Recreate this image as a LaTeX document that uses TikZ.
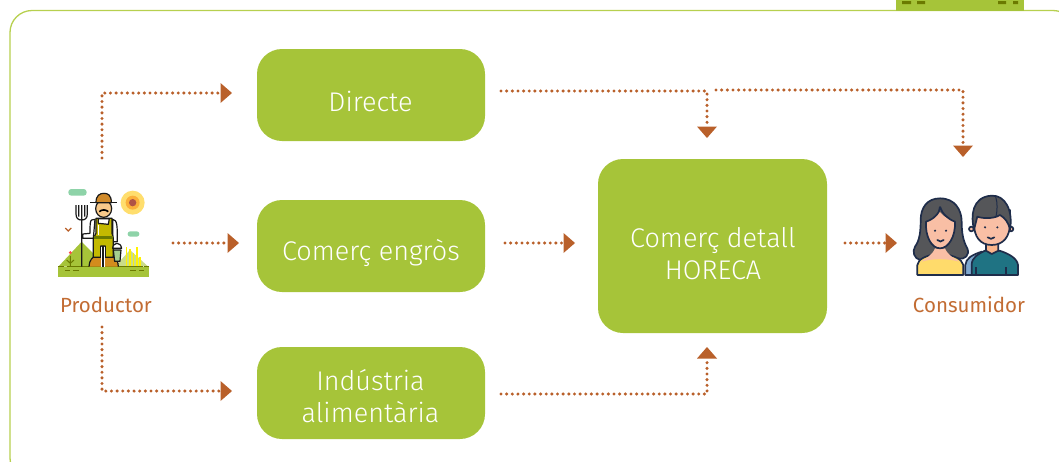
\documentclass[tikz,border=0pt]{standalone}
\usepackage{fontspec}
\setmainfont{Fira Sans Light}
\newfontfamily\capfont{Fira Sans}
\usetikzlibrary{arrows.meta}
\definecolor{boxgreen}{HTML}{A6C439}
\definecolor{frameg}{HTML}{B7D04F}
\definecolor{rust}{HTML}{B9602A}
\definecolor{labelc}{HTML}{C26C33}
\definecolor{olive}{HTML}{6B7A00}
\definecolor{navy}{HTML}{1F2D4A}
\definecolor{hair}{HTML}{555659}
\definecolor{skin}{HTML}{F9BFA5}
\definecolor{teal2}{HTML}{1F7383}
\definecolor{skyb}{HTML}{7FA8CF}
\definecolor{yel}{HTML}{FFDB6B}
\definecolor{mint}{HTML}{8ED3A8}
\definecolor{overall}{HTML}{C4B900}
\definecolor{peach}{HTML}{F8C98A}
\definecolor{hatc}{HTML}{D08A2A}
\definecolor{bootc}{HTML}{D38C1D}
\definecolor{bucket}{HTML}{A5D08F}
\tikzset{
  stagebox/.style={fill=boxgreen,rounded corners=25pt,inner sep=0pt,anchor=center},
  stagetext/.style={text=white,font=\fontsize{27}{32}\selectfont,align=center,inner sep=0pt},
  flow/.style={draw=rust,line width=3.4pt,line cap=round,dash pattern=on 0pt off 5.65pt,-{Triangle[length=11.5pt,width=20pt,fill=rust,line width=0pt,round=false]}},
  caption/.style={text=labelc,font=\capfont\fontsize{20.5}{24}\selectfont,inner sep=0pt},
  ink/.style={draw=black!90,line width=1.2pt,line join=round},
  inkp/.style={draw=navy,line width=1.7pt,line join=round},
}
\begin{document}
\begin{tikzpicture}[x=1pt,y=-1pt]
\useasboundingbox (0,0) rectangle (1059,461);
\clip (0,0) rectangle (1059,461);
% frame and tab
\draw[frameg,line width=1.3pt,rounded corners=22pt] (10,10.5) rectangle (1075,480);
\fill[boxgreen] (896,0) rectangle (1024,11);
\fill[olive] (902,1) rectangle (911,4) (917,1) rectangle (925,4) (998,1) rectangle (1006,4) (1013,1) rectangle (1018,4);
% stages
\node[stagebox,minimum width=228pt,minimum height=92pt] (directe) at (371,95) {};
\node[stagebox,minimum width=228pt,minimum height=92pt] (engros) at (371,246) {};
\node[stagebox,minimum width=228pt,minimum height=92pt] (industria) at (371,393) {};
\node[stagebox,minimum width=229pt,minimum height=174pt] (detall) at (712.5,246) {};
\node[stagetext] (directeT) at (370.5,101) {Directe};
\node[stagetext] (engrosT) at (371,253) {Comerç engròs};
\node[stagetext] (industriaT) at (370.5,396.5) {Indústria\\alimentària};
\node[stagetext] (detallT) at (713,253.5) {Comerç detall\\HORECA};
\node[caption] (productor) at (106,304.5) {Productor};
\node[caption] (consumidor) at (969,304.5) {Consumidor};
% connector anchors
\coordinate (p1) at (102,158); \coordinate (p1c) at (102,93);  \coordinate (p1e) at (232,93);
\coordinate (p2) at (173,243); \coordinate (p2e) at (239,243);
\coordinate (p3) at (102,327); \coordinate (p3c) at (102,391); \coordinate (p3e) at (232,391);
\coordinate (d1) at (501,91);  \coordinate (d1c) at (707,91);  \coordinate (d1e) at (707,138);
\coordinate (d2) at (716,90);  \coordinate (d2c) at (963,90);  \coordinate (d2e) at (963,157);
\coordinate (e1) at (505,243); \coordinate (e1e) at (575,243);
\coordinate (i1) at (501,394); \coordinate (i1c) at (707,394); \coordinate (i1e) at (707,347);
\coordinate (c1) at (845,243); \coordinate (c1e) at (897,243);
\draw[flow] (p1) -- (p1c) -- (p1e);
\draw[flow] (p2) -- (p2e);
\draw[flow] (p3) -- (p3c) -- (p3e);
\draw[flow] (d1) -- (d1c) -- (d1e);
\draw[flow] (d2) -- (d2c) -- (d2e);
\draw[flow] (e1) -- (e1e);
\draw[flow] (i1) -- (i1c) -- (i1e);
\draw[flow] (c1) -- (c1e);
% farmer icon
\begin{scope}[shift={(40,170)},x=.3333pt,y=-.3333pt]
  \fill[color={rgb,255:red,255;green,222;blue,110}] (278,98) circle (36);
  \fill[color={rgb,255:red,251;green,176;blue,59}] (278,98) circle (21);
  \fill[color={rgb,255:red,176;green,82;blue,70}] (278,98) circle (11);
  \fill[mint,rounded corners=3pt] (85,57) rectangle (140,77);
  \fill[mint,rounded corners=2.5pt] (263,184) rectangle (298,200);
  \draw[rust,line width=1.2pt] (76,174) -- (85,183) -- (94,174);
  \fill[boxgreen] (55,290) -- (125,215) -- (180,270) -- (180,290) -- cycle;
  \fill[boxgreen!60!white] (225,290) -- (270,240) -- (325,290) -- cycle;
  \foreach \xx/\yy in {260/232,270/238,280/250,291/232,300/262}
    \draw[yellow,line width=1.2pt] (\xx,\yy) -- (\xx,290);
  \fill[boxgreen] (55,292) rectangle (327,320);
  \draw[olive,line width=1.5pt] (55,290) -- (73,290) (80,290) -- (308,290) (312,290) -- (327,290);
  \draw[olive,line width=1.3pt] (75,302) -- (90,302) (100,302) -- (116,302) (270,302) -- (288,302) (298,302) -- (312,302);
  \draw[olive,line width=1pt] (91,290) -- (91,258) (80,270) -- (91,280) -- (102,270);
  \fill[red!70!white] (91,248) circle (5);
  % fork
  \draw[ink] (125,150) -- (125,290) (125,105) -- (125,150) (116,105) -- (116,140) (134,105) -- (134,140)
    (108,105) -- (108,132) .. controls (108,145) and (115,150) .. (125,150) .. controls (135,150) and (142,145) .. (142,132) -- (142,105);
  % boots
  \fill[bootc] (147,290) .. controls (147,270) and (160,262) .. (163,258) -- (220,258) .. controls (228,265) and (235,275) .. (235,290) -- cycle;
  \draw[ink] (147,290) .. controls (147,270) and (160,262) .. (163,258) (220,258) .. controls (228,265) and (235,275) .. (235,290);
  % shirt arms
  \draw[ink,fill=white] (155,150) .. controls (150,152) and (150,165) .. (150,190) -- (128,192) -- (128,205) -- (160,205) -- (165,148) -- cycle;
  \draw[ink,fill=white] (218,148) .. controls (232,150) and (232,165) .. (232,215) -- (218,215) -- cycle;
  % overalls
  \draw[ink,fill=overall] (168,145) -- (168,190) -- (160,205) -- (160,262) -- (182,262) -- (182,228) -- (196,228) -- (196,262) -- (220,262) -- (220,205) -- (216,190) -- (216,145) -- cycle;
  \fill[olive] (161,198) rectangle (219,207);
  \fill[white] (182,232) rectangle (196,290);
  \draw[ink] (189,228) -- (189,290);
  \draw[white,line width=1pt] (175,165) -- (175,195);
  % collar
  \draw[ink,fill=white] (175,146) -- (175,160) -- (205,163) -- (208,146) -- cycle;
  % face
  \draw[ink,fill=peach] (191,116) ellipse (24 and 26);
  \draw[black,line width=1.6pt] (178,125) .. controls (185,118) and (197,118) .. (205,125);
  % hat
  \draw[ink,fill=hatc] (168,98) .. controls (168,75) and (180,70) .. (192,70) .. controls (204,70) and (214,75) .. (214,98) -- cycle;
  \draw[ink] (150,98) -- (232,98);
  % bucket
  \draw[ink,fill=white] (218,235) .. controls (220,215) and (242,215) .. (245,235) -- cycle;
  \draw[ink,fill=bucket] (220,240) -- (243,240) -- (240,274) -- (224,274) -- cycle;
\end{scope}
% people icon
\begin{scope}[shift={(900,180)},x=.3333pt,y=-.3333pt]
  % woman hair
  \draw[inkp,fill=hair] (120,55) .. controls (165,55) and (185,90) .. (185,125) .. controls (185,160) and (190,185) .. (202,205) .. controls (210,225) and (195,240) .. (175,235) -- (60,240) .. controls (42,235) and (36,215) .. (45,200) .. controls (60,180) and (62,150) .. (62,120) .. controls (62,85) and (80,55) .. (120,55) -- cycle;
  % woman shirt
  \draw[inkp,fill=yel] (52,285) -- (52,255) .. controls (55,235) and (80,228) .. (105,222) -- (135,222) .. controls (160,228) and (185,235) .. (190,255) -- (190,285) -- cycle;
  \fill[skin] (64,245) .. controls (80,232) and (95,228) .. (105,205) -- (135,205) .. controls (145,228) and (160,232) .. (178,245) .. controls (140,235) and (100,235) .. (64,245) -- cycle;
  % woman face
  \fill[skin] (120,96) .. controls (105,110) and (90,120) .. (78,125) .. controls (75,170) and (95,205) .. (120,205) .. controls (145,205) and (167,170) .. (165,125) .. controls (150,120) and (130,110) .. (120,96) -- cycle;
  \draw[inkp] (120,80) .. controls (120,100) and (100,118) .. (78,125) .. controls (75,170) and (95,205) .. (120,205) .. controls (145,205) and (167,170) .. (165,125) .. controls (145,118) and (125,100) .. (120,80);
  \fill[navy] (105,152) circle (3.5) (138,152) circle (3.5);
  \draw[inkp,line cap=round] (112,180) .. controls (117,186) and (126,186) .. (131,180);
  % man
  \draw[inkp,fill=skyb] (196,285) -- (196,255) .. controls (198,235) and (215,225) .. (245,215) -- (260,285) -- cycle;
  \draw[inkp,fill=teal2] (215,285) -- (215,255) .. controls (215,232) and (235,222) .. (255,212) -- (298,212) .. controls (325,220) and (352,235) .. (354,255) -- (354,285) -- cycle;
  \draw[inkp] (227,285) -- (227,262) (317,285) -- (317,262);
  \draw[inkp,fill=skin!85!orange] (258,190) -- (258,212) -- (275,222) -- (295,212) -- (295,190) -- cycle;
  \draw[inkp,fill=skin] (214,147) circle (7) (333,147) circle (7);
  \draw[inkp,fill=skin] (275,195) .. controls (240,195) and (222,170) .. (222,130) -- (222,90) -- (330,90) -- (330,130) .. controls (330,170) and (310,195) .. (275,195) -- cycle;
  \draw[inkp,fill=hair] (222,148) .. controls (212,110) and (215,50) .. (275,47) .. controls (315,45) and (340,90) .. (330,150) .. controls (325,125) and (315,115) .. (300,105) .. controls (280,118) and (245,115) .. (232,110) .. controls (228,125) and (226,135) .. (222,148) -- cycle;
  \draw[navy,line width=1pt] (287,50) .. controls (293,70) and (292,90) .. (288,110);
  \fill[navy] (255,142) circle (3.5) (292,142) circle (3.5);
  \draw[inkp,line cap=round] (263,172) .. controls (268,178) and (278,178) .. (283,172);
\end{scope}
\end{tikzpicture}
\end{document}
